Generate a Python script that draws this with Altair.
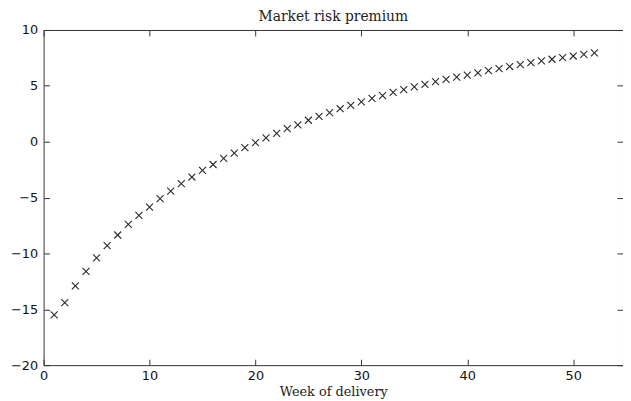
import altair as alt
import pandas as pd

weeks = list(range(1, 53))
premium = [-15.5, -14.4, -12.9, -11.6, -10.4, -9.3, -8.35, -7.4, -6.6, -5.85,
           -5.1, -4.42, -3.75, -3.16, -2.57, -2.04, -1.5, -1.03, -0.53, -0.09,
           0.35, 0.75, 1.18, 1.5, 1.92, 2.27, 2.6, 2.95, 3.25, 3.57,
           3.87, 4.13, 4.42, 4.66, 4.9, 5.13, 5.37, 5.58, 5.78, 5.96,
           6.17, 6.37, 6.55, 6.73, 6.9, 7.08, 7.23, 7.38, 7.52, 7.67,
           7.82, 7.96]
x_ticks = [0, 10, 20, 30, 40, 50]
y_ticks = [-20, -15, -10, -5, 0, 5, 10]

df = pd.DataFrame({"week": weeks, "premium": premium})

xs = alt.Scale(domain=[0, 54.7], nice=False, zero=False)
ys = alt.Scale(domain=[-20, 10], nice=False, zero=False)

AX = "#333333"
label_font = "DejaVu Sans"

base = alt.Chart(df)

points = base.mark_point(
    shape="M-1,-1L1,1M-1,1L1,-1", filled=False, size=50, strokeWidth=1.1, color="#2a2a2a", opacity=1
).encode(
    x=alt.X("week:Q", scale=xs, axis=alt.Axis(
        orient="bottom", values=x_ticks, title="Week of delivery", ticks=False, domain=False,
        labelPadding=5, labelFlush=False, labelOverlap=False, labelFont=label_font,
        labelFontSize=13, labelColor="#111111", titleFont="DejaVu Serif", titleFontSize=13,
        titleFontWeight="normal", titleColor="#222222", titlePadding=3, grid=False)),
    y=alt.Y("premium:Q", scale=ys, axis=alt.Axis(
        orient="left", values=y_ticks, title=None, ticks=False, domain=False,
        labelPadding=6, labelFlush=False, labelOverlap=False, labelFont=label_font,
        labelFontSize=13, labelColor="#111111", grid=False)),
)

inner_bl = base.mark_point(opacity=0).encode(
    x=alt.X("week:Q", scale=xs, axis=alt.Axis(
        orient="bottom", offset=-6, values=x_ticks, labels=False, domain=False,
        ticks=True, tickSize=6, tickColor=AX, title=None, grid=False)),
    y=alt.Y("premium:Q", scale=ys, axis=alt.Axis(
        orient="left", offset=-6, values=y_ticks, labels=False, domain=False,
        ticks=True, tickSize=6, tickColor=AX, title=None, grid=False)),
)

inner_tr = base.mark_point(opacity=0).encode(
    x=alt.X("week:Q", scale=xs, axis=alt.Axis(
        orient="top", offset=-6, values=x_ticks, labels=False, domain=False,
        ticks=True, tickSize=6, tickColor=AX, title=None, grid=False)),
    y=alt.Y("premium:Q", scale=ys, axis=alt.Axis(
        orient="right", offset=-6, values=y_ticks, labels=False, domain=False,
        ticks=True, tickSize=6, tickColor=AX, title=None, grid=False)),
)

chart = alt.layer(points, inner_bl, inner_tr).resolve_axis(
    x="independent", y="independent"
).properties(
    width=586, height=339,
    title=alt.TitleParams("Market risk premium", font="DejaVu Serif", fontSize=14,
                          fontWeight="normal", color="#222222", offset=0),
    autosize=alt.AutoSizeParams(type="none"),
    padding={"left": 36, "top": 20, "right": 0, "bottom": 32},
).configure_view(stroke=AX, strokeWidth=1)

chart.save("out.html", embed_options={"renderer": "svg", "actions": False})
